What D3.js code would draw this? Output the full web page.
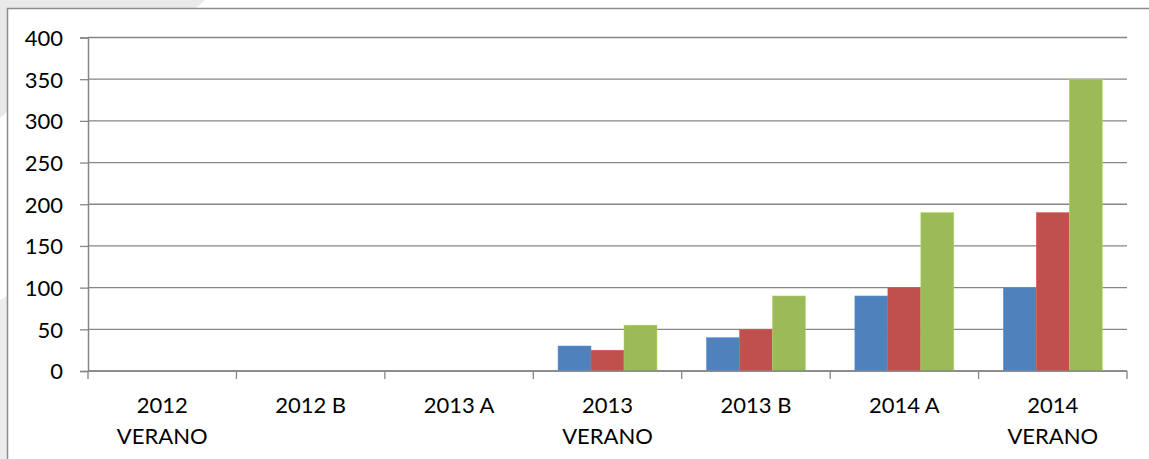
<!DOCTYPE html>
<html>
<head>
<meta charset="utf-8">
<script src="https://cdn.jsdelivr.net/npm/d3@7"></script>
<style>
  html, body { margin: 0; padding: 0; background: #fff; }
  text { font-family: Lato, "Open Sans", sans-serif; fill: #000; }
</style>
</head>
<body>
<svg id="chart"></svg>
<script>
// Chart data
const categories = [["2012", "VERANO"], ["2012 B"], ["2013 A"], ["2013", "VERANO"], ["2013 B"], ["2014 A"], ["2014", "VERANO"]];
const seriesNames = ["Serie 1", "Serie 2", "Serie 3"];
const serie1 = [0, 0, 0, 30, 40, 90, 100];
const serie2 = [0, 0, 0, 25, 50, 100, 190];
const serie3 = [0, 0, 0, 55, 90, 190, 350];
const yTicks = [0, 50, 100, 150, 200, 250, 300, 350, 400];
const colors = ["#4f81bd", "#c0504d", "#9bbb59"];

const width = 1149, height = 459;
const margin = { left: 88, right: 22, top: 37.5, bottom: 88 };

const svg = d3.select("#chart").attr("width", width).attr("height", height);

// Background decoration (grey slide corner)
svg.append("path")
    .attr("d", "M0,0 L205,0 L196,8 L7,8 L7,112 L0,118 Z")
    .attr("fill", "#e9e9e9");
svg.append("path")
    .attr("d", "M0,300 L7,296 L7,459 L0,459 Z")
    .attr("fill", "#ececec");

// Chart frame
svg.append("path")
    .attr("d", `M7.5,${height + 2} L7.5,8.5 L${width + 2},8.5`)
    .attr("fill", "none")
    .attr("stroke", "#8c8c8c")
    .attr("stroke-width", 1.5);

const x = d3.scaleBand()
    .domain(d3.range(categories.length))
    .range([margin.left, width - margin.right]);

const y = d3.scaleLinear()
    .domain([0, 400])
    .range([height - margin.bottom, margin.top]);

// Inner band for the three series (Excel gap width 150%)
const inner = d3.scaleBand()
    .domain(d3.range(seriesNames.length))
    .range([0, x.bandwidth()])
    .paddingInner(0)
    .paddingOuter(0.75);

// Gridlines
svg.append("g")
    .selectAll("line")
    .data(yTicks)
    .enter()
    .append("line")
    .attr("x1", margin.left)
    .attr("x2", width - margin.right)
    .attr("y1", d => y(d))
    .attr("y2", d => y(d))
    .attr("stroke", "#868686")
    .attr("stroke-width", 1.3);

// Y axis
const yAxis = svg.append("g")
    .attr("transform", `translate(${margin.left},0)`)
    .call(d3.axisLeft(y).tickValues(yTicks).tickSize(8).tickPadding(17));
yAxis.select(".domain").attr("stroke", "#868686").attr("stroke-width", 1.5);
yAxis.selectAll(".tick line").attr("stroke", "#868686").attr("stroke-width", 1.3);
yAxis.selectAll(".tick text")
    .style("font-size", "22px")
    .attr("dy", "0.36em");

// Bars
const series = [serie1, serie2, serie3];
series.forEach((values, s) => {
    svg.append("g")
        .selectAll("rect")
        .data(values)
        .enter()
        .append("rect")
        .attr("x", (d, i) => x(i) + inner(s))
        .attr("width", inner.bandwidth())
        .attr("y", d => y(d))
        .attr("height", d => y(0) - y(d))
        .attr("fill", colors[s])
        .attr("stroke", d3.color(colors[s]).brighter(0.4))
        .attr("stroke-width", 0.5);
});

// X axis
const xAxis = svg.append("g")
    .attr("transform", `translate(0,${y(0)})`);
xAxis.append("line")
    .attr("x1", margin.left)
    .attr("x2", width - margin.right)
    .attr("stroke", "#868686")
    .attr("stroke-width", 1.5);
xAxis.selectAll(".xtick")
    .data(d3.range(categories.length + 1))
    .enter()
    .append("line")
    .attr("x1", i => i < categories.length ? x(i) : x(i - 1) + x.bandwidth())
    .attr("x2", i => i < categories.length ? x(i) : x(i - 1) + x.bandwidth())
    .attr("y1", 0)
    .attr("y2", 8)
    .attr("stroke", "#868686")
    .attr("stroke-width", 1.3);

const labels = xAxis.selectAll(".xlabel")
    .data(categories)
    .enter()
    .append("text")
    .attr("text-anchor", "middle")
    .style("font-size", "22px")
    .attr("transform", (d, i) => `translate(${x(i) + x.bandwidth() / 2},42)`);
labels.selectAll("tspan")
    .data(d => d)
    .enter()
    .append("tspan")
    .attr("x", 0)
    .attr("y", (d, j) => j * 31)
    .text(d => d);
</script>
</body>
</html>
